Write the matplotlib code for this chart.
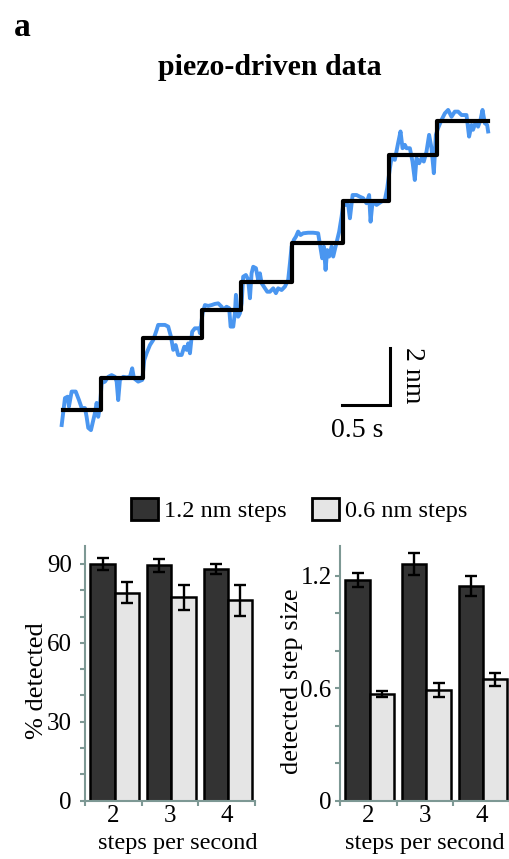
import matplotlib
matplotlib.use("Agg")
import matplotlib.pyplot as plt
from matplotlib.patches import Patch

plt.rcParams["font.family"] = ["Liberation Serif", "DejaVu Serif"]

# piezo trace (time in s, position in nm)
trace_t = [-0.010, 0.024, 0.052, 0.065, 0.093, 0.135, 0.169, 0.197, 0.231, 0.248,
           0.265, 0.293, 0.317, 0.334, 0.352, 0.368, 0.386, 0.404, 0.438, 0.472,
           0.507, 0.541, 0.559, 0.575, 0.593, 0.627, 0.662, 0.697, 0.720, 0.738,
           0.782, 0.824, 0.845, 0.869, 0.904, 0.938, 0.973, 0.989, 1.025, 1.059,
           1.093, 1.121, 1.145, 1.170, 1.196, 1.232, 1.259, 1.283, 1.300, 1.318,
           1.341, 1.369, 1.411, 1.421, 1.449, 1.473, 1.507, 1.542, 1.576, 1.610,
           1.646, 1.662, 1.697, 1.724, 1.739, 1.766, 1.783, 1.794, 1.817, 1.835,
           1.853, 1.869, 1.897, 1.921, 1.939, 1.956, 1.973, 2.001, 2.024, 2.042,
           2.060, 2.083, 2.118, 2.146, 2.180, 2.208, 2.231, 2.267, 2.301, 2.335,
           2.353, 2.370, 2.394, 2.415, 2.438, 2.463, 2.490, 2.542, 2.594, 2.645,
           2.670, 2.687, 2.704, 2.722, 2.739, 2.759, 2.784, 2.801, 2.826, 2.842,
           2.863, 2.888, 2.904, 2.940, 2.956, 2.974, 3.002, 3.043, 3.077, 3.111,
           3.146, 3.173, 3.188, 3.209, 3.250, 3.302, 3.336, 3.360, 3.388, 3.405,
           3.439, 3.473, 3.498, 3.519, 3.543, 3.560, 3.595, 3.622, 3.646, 3.664,
           3.691, 3.716, 3.739, 3.767, 3.794, 3.819, 3.843, 3.864, 3.887, 3.923,
           3.957, 3.991, 4.026, 4.060, 4.094, 4.130, 4.181, 4.208, 4.233, 4.249,
           4.278, 4.301, 4.326, 4.347, 4.371, 4.395, 4.405]
trace_nm = [-0.53, 0.42, 0.47, 0.12, 0.65, 0.65, 0.35, 0.07, 0.07, -0.24,
            -0.63, -0.71, -0.35, -0.11, 0.25, -0.24, 0.12, 0.95, 1.00, 1.17,
            1.23, 1.17, 1.00, 0.35, 1.06, 1.17, 1.15, 1.17, 1.47, 1.12,
            1.00, 1.06, 1.76, 2.00, 2.29, 2.47, 2.82, 3.00, 3.00, 3.00,
            2.94, 2.59, 2.12, 2.29, 1.94, 1.94, 2.23, 2.12, 2.35, 2.00,
            2.76, 2.88, 2.88, 2.71, 3.41, 3.70, 3.67, 3.70, 3.74, 3.76,
            3.64, 3.53, 3.64, 3.59, 2.94, 2.94, 3.41, 4.06, 3.29, 3.41,
            3.76, 4.70, 4.76, 4.59, 3.94, 4.82, 5.05, 5.00, 4.59, 4.82,
            4.47, 4.35, 4.17, 4.17, 4.29, 4.12, 4.29, 4.23, 4.35, 4.59,
            5.17, 5.76, 6.00, 6.11, 6.29, 6.17, 6.23, 6.25, 6.25, 6.23,
            5.70, 5.35, 5.76, 4.94, 5.64, 5.41, 5.76, 5.41, 5.76, 6.00,
            6.29, 6.82, 7.23, 7.23, 7.23, 6.76, 7.58, 7.58, 7.52, 7.47,
            7.29, 7.58, 6.64, 7.35, 7.23, 7.35, 7.41, 7.82, 8.52, 8.88,
            8.82, 9.41, 9.82, 9.23, 9.35, 9.23, 9.23, 8.76, 8.11, 8.88,
            8.70, 8.88, 8.76, 9.11, 9.70, 9.23, 8.35, 9.70, 9.94, 10.23,
            10.46, 10.58, 10.34, 10.52, 10.52, 10.40, 10.40, 9.64, 10.05, 9.88,
            10.17, 9.99, 10.23, 10.58, 10.11, 10.05, 9.82]

# fitted steps
step_t = [0, 0.396, 0.834, 1.445, 1.846, 2.370, 2.898, 3.380, 3.871, 4.399]
step_nm = [0, 1.13, 2.54, 3.53, 4.51, 5.88, 7.38, 9.00, 10.20, 10.20]

# bar charts
rates = ["2", "3", "4"]
pct_big = [90.0, 89.5, 88.0]
pct_big_err = [2.2, 2.5, 1.8]
pct_small = [79.1, 77.3, 76.1]
pct_small_err = [4.0, 4.8, 5.8]
size_big = [1.179, 1.262, 1.147]
size_big_err = [0.039, 0.059, 0.053]
size_small = [0.570, 0.591, 0.648]
size_small_err = [0.016, 0.036, 0.036]

DARK = "#333333"
LIGHT = "#e5e5e5"
BLUE = "#4a96f0"
SPINE = "#7d9894"

W, H = 509, 859
fig = plt.figure(figsize=(W / 100, H / 100), dpi=100)


def px_rect(x0, y0, x1, y1):
    return [x0 / W, 1 - y1 / H, (x1 - x0) / W, (y1 - y0) / H]


# ---- trace panel
ax = fig.add_axes(px_rect(50, 100, 500, 440))
ax.plot(trace_t, trace_nm, color=BLUE, lw=2.8, solid_joinstyle="round")
ax.step(step_t, step_nm, where="post", color="black", lw=3.0)
ax.set_xlim(-0.131, 4.528)
ax.set_ylim(-1.058, 10.93)
ax.axis("off")

# scale bar
sb_t, sb_y = 2.894, 0.176
ax.plot([sb_t, sb_t + 0.5, sb_t + 0.5], [sb_y, sb_y, sb_y + 2], color="black",
        lw=2.2, solid_joinstyle="miter")
ax.text(sb_t + 0.16, sb_y - 0.45, "0.5 s", ha="center", va="top", fontsize=20)
ax.text(sb_t + 0.5 + 0.1, sb_y + 2.05, "2 nm", ha="left", va="top",
        rotation=270, fontsize=20)

fig.text(14 / W, 1 - 36 / H, "a", fontsize=24, fontweight="bold", ha="left",
         va="baseline")
fig.text(270 / W, 1 - 75 / H, "piezo-driven data", fontsize=21.5,
         fontweight="bold", ha="center", va="baseline")


# ---- bar panels
def bar_panel(rect, big, big_err, small, small_err, ymax, ticks, labels, ylabel,
              pad, xlab_x):
    a = fig.add_axes(rect)
    x = [1, 2, 3]
    bw = 0.43
    xb = [i - bw / 2 + 0.025 for i in x]
    xs = [i + bw / 2 + 0.025 for i in x]
    a.bar(xb, big, bw, color=DARK, edgecolor="black", lw=1.8)
    a.bar(xs, small, bw, color=LIGHT, edgecolor="black", lw=1.8)
    a.errorbar(xb, big, yerr=big_err, fmt="none", ecolor="black",
               elinewidth=1.7, capsize=4.5, capthick=1.7)
    a.errorbar(xs, small, yerr=small_err, fmt="none", ecolor="black",
               elinewidth=1.7, capsize=4.5, capthick=1.7)
    a.set_xlim(0.5, 3.5)
    a.set_ylim(0, ymax)
    for s in ["top", "right"]:
        a.spines[s].set_visible(False)
    for s in ["left", "bottom"]:
        a.spines[s].set_color(SPINE)
        a.spines[s].set_linewidth(1.5)
    a.set_xticks([0.5, 1.5, 2.5, 3.5])
    a.set_xticklabels([])
    a.set_xticks(x, minor=True)
    a.set_xticklabels(rates, minor=True)
    a.tick_params(axis="x", which="major", direction="out", length=3.5,
                  width=1.5, color=SPINE)
    a.tick_params(axis="x", which="minor", length=0, pad=3, labelsize=18)
    a.set_yticks(ticks)
    a.set_yticklabels(labels)
    a.tick_params(axis="y", direction="out", length=3.5, width=1.5,
                  color=SPINE, pad=pad, labelsize=18)
    a.set_xlabel("steps per second", fontsize=17.5, labelpad=4.5)
    a.xaxis.label.set_x(xlab_x)
    a.set_ylabel(ylabel, fontsize=19)
    a.yaxis.set_label_coords(-0.218, 0.47)
    return a


bar_panel(px_rect(85, 546, 255, 800.7), pct_big, pct_big_err, pct_small,
          pct_small_err, 96.8, list(range(0, 100, 10)),
          ["0", "", "", "30", "", "", "60", "", "", "90"], "% detected", 6,
          0.545)
bar_panel(px_rect(340, 546, 510, 800.7), size_big, size_big_err, size_small,
          size_small_err, 1.36, [0, 0.2, 0.4, 0.6, 0.8, 1.0, 1.2],
          ["0", "", "", "0.6", "", "", "1.2"], "detected step size", 2.5,
          0.5)

handles = [Patch(facecolor=DARK, edgecolor="black", lw=2, label="1.2 nm steps"),
           Patch(facecolor=LIGHT, edgecolor="black", lw=2, label="0.6 nm steps")]
fig.legend(handles=handles, loc="center", bbox_to_anchor=(299.5 / W, 1 - 510 / H),
           ncol=2, frameon=False, fontsize=17.5, handlelength=1.1,
           handleheight=1.05, handletextpad=0.25, columnspacing=1.05,
           borderpad=0, borderaxespad=0)

fig.savefig("out.png", dpi=100)
